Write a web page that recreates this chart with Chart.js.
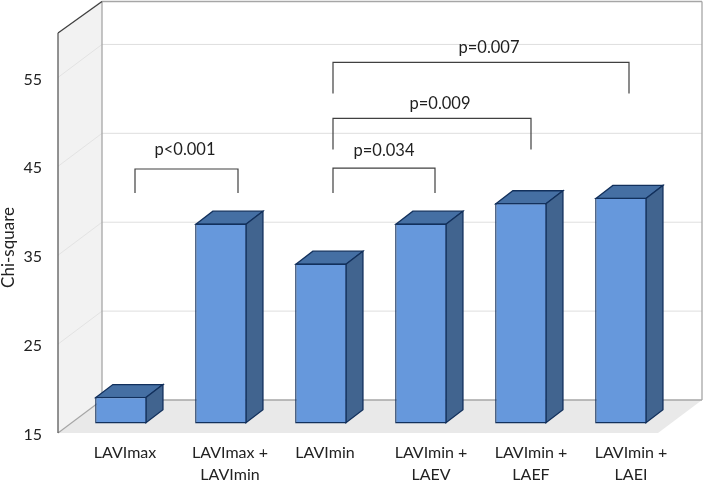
<!DOCTYPE html>
<html><head><meta charset="utf-8">
<style>html,body{margin:0;padding:0;background:#fff}canvas{display:block}</style>
<script src="https://cdn.jsdelivr.net/npm/chart.js@4"></script>
</head><body><canvas id="c" width="705" height="481"></canvas>
<script>
const categories = [["LAVImax"],["LAVImax +","LAVImin"],["LAVImin"],["LAVImin +","LAEV"],["LAVImin +","LAEF"],["LAVImin +","LAEI"]];
const chiSquare = [18, 37.5, 33, 37.5, 39.8, 40.4];
const yTicks = [15, 25, 35, 45, 55];
const bracketLabels = ["p<0.001", "p=0.034", "p=0.009", "p=0.007"];
const bracketFrom = [0.27, 2.25, 2.25, 2.25];
const bracketTo = [1.30, 3.27, 4.23, 5.21];
const bracketTop = [44.7, 44.8, 50.4, 56.7];
const bracketEnd = [42.0, 42.0, 46.9, 53.2];
const bracketLabelAt = [46.85, 46.75, 52.1, 58.4];
const bracketLabelX = [0.77, 2.76, 3.32, 3.81];
const yTitle = "Chi-square";

const FONT = 'Lato, "Open Sans", sans-serif';
const WALL = {dx:44, dy:-33};
const BAR_SHIFT = {dx:12.9, dy:-9.5};
const BAR_DEPTH = {dx:17, dy:-13};
const labelNudge = [0, 5, 0, 6, 6, 6];

function poly(ctx, pts, fill, stroke, lw){
  ctx.beginPath();
  pts.forEach((p,i)=> i?ctx.lineTo(p[0],p[1]):ctx.moveTo(p[0],p[1]));
  ctx.closePath();
  if(fill){ctx.fillStyle=fill;ctx.fill();}
  if(stroke){ctx.strokeStyle=stroke;ctx.lineWidth=lw;ctx.stroke();}
}
function seg(ctx,x1,y1,x2,y2,c,lw){
  ctx.beginPath();ctx.moveTo(x1,y1);ctx.lineTo(x2,y2);ctx.strokeStyle=c;ctx.lineWidth=lw;ctx.stroke();
}
const scene = {
  id:'scene',
  beforeDraw(chart){
    const {ctx,chartArea:a,scales:{y,x}} = chart;
    x.getLabelItems().forEach((it,i)=>{ it.options.translation[0] += labelNudge[i]; it.options.translation[1] -= 4; });
    y.getLabelItems().forEach(it=>{ it.options.translation[1] += 2; });
    const d=WALL;
    ctx.save();
    ctx.fillStyle='#fff';ctx.fillRect(0,0,chart.width,chart.height);
    poly(ctx,[[a.left,a.top],[a.left+d.dx,a.top+d.dy],[a.left+d.dx,a.bottom+d.dy],[a.left,a.bottom]],'#f2f2f2');
    poly(ctx,[[a.left,a.bottom],[a.right,a.bottom],[a.right+d.dx,a.bottom+d.dy],[a.left+d.dx,a.bottom+d.dy]],'#e9e9e9');
    yTicks.slice(1).forEach(t=>{
      const py=y.getPixelForValue(t);
      seg(ctx,a.left,py,a.left+d.dx,py+d.dy,'#e3e3e3',1);
      seg(ctx,a.left+d.dx,py+d.dy,a.right+d.dx,py+d.dy,'#dfdfdf',1);
    });
    seg(ctx,a.left+d.dx,a.top+d.dy+1.5,a.right+d.dx,a.top+d.dy+1.5,'#a6a6a6',1.3);
    seg(ctx,a.right+d.dx,a.top+d.dy+1.5,a.right+d.dx,a.bottom+d.dy,'#a6a6a6',1.3);
    seg(ctx,a.left+d.dx,a.bottom+d.dy,a.right+d.dx,a.bottom+d.dy,'#a6a6a6',1.3);
    seg(ctx,a.left+d.dx,a.top+d.dy+1.5,a.left+d.dx,a.bottom+d.dy,'#a6a6a6',1.3);
    seg(ctx,a.left,a.bottom,a.left+d.dx,a.bottom+d.dy,'#a6a6a6',1.2);
    seg(ctx,a.left,a.top,a.left+d.dx,a.top+d.dy+1.5,'#404040',1.3);
    seg(ctx,a.left,a.top,a.left,a.bottom,'#595959',1.3);
    ctx.restore();
  },
  beforeDatasetsDraw(chart){
    const {ctx}=chart, d=BAR_DEPTH, e='#12305c', lw=1.3;
    ctx.save();
    ctx.translate(BAR_SHIFT.dx,BAR_SHIFT.dy);
    chart.getDatasetMeta(0).data.forEach(b=>{
      const l=b.x-b.width/2+0.7,r=b.x+b.width/2-0.7,t=b.y+0.7,bt=b.base-0.7;
      poly(ctx,[[l,t],[l+d.dx,t+d.dy],[r+d.dx,t+d.dy],[r,t]],'#456fa3',e,lw);
      poly(ctx,[[r,t],[r+d.dx,t+d.dy],[r+d.dx,bt+d.dy],[r,bt]],'#41648f',e,lw);
    });
  },
  afterDatasetsDraw(chart){
    chart.ctx.restore();
    const {ctx,scales:{x,y}}=chart;
    ctx.save();
    bracketLabels.forEach((lab,i)=>{
      const x1=x.getPixelForValue(bracketFrom[i]),x2=x.getPixelForValue(bracketTo[i]);
      const yt=y.getPixelForValue(bracketTop[i]),ye=y.getPixelForValue(bracketEnd[i]);
      ctx.beginPath();ctx.moveTo(x1,ye);ctx.lineTo(x1,yt);ctx.lineTo(x2,yt);ctx.lineTo(x2,ye);
      ctx.strokeStyle='#404040';ctx.lineWidth=1.2;ctx.stroke();
      ctx.fillStyle='#1f1f1f';ctx.font='16.5px '+FONT;ctx.textAlign='center';ctx.textBaseline='middle';
      ctx.fillText(lab,x.getPixelForValue(bracketLabelX[i]),y.getPixelForValue(bracketLabelAt[i]));
    });
    ctx.save();
    ctx.translate(9,y.getPixelForValue(35.87));
    ctx.rotate(-Math.PI/2);
    ctx.fillStyle='#222';ctx.font='17px '+FONT;ctx.textAlign='center';ctx.textBaseline='middle';
    ctx.fillText(yTitle,0,0);
    ctx.restore();
    ctx.restore();
  }
};
new Chart(document.getElementById('c'),{
  type:'bar',
  data:{labels:categories,datasets:[{data:chiSquare,base:15,backgroundColor:'#6698dc',borderColor:'#12305c',borderWidth:1.4,borderSkipped:false,clip:false,barPercentage:0.515,categoryPercentage:1}]},
  plugins:[scene],
  options:{
    responsive:false,animation:false,
    layout:{padding:{top:33,right:47,left:0,bottom:0}},
    plugins:{legend:{display:false},tooltip:{enabled:false}},
    scales:{
      x:{grid:{display:false},border:{display:false},
        ticks:{maxRotation:0,autoSkip:false,labelOffset:17,padding:4,color:'#222',font:{family:FONT,size:16,lineHeight:1.42}},
        afterFit(s){s.height=48;}},
      y:{min:15,max:60,grid:{display:false},border:{display:false},
        afterBuildTicks(s){s.ticks=yTicks.map(v=>({value:v}));},
        ticks:{padding:8,color:'#222',font:{family:FONT,size:16}},
        afterFit(s){s.width=58;}}
    }
  }
});
</script></body></html>
